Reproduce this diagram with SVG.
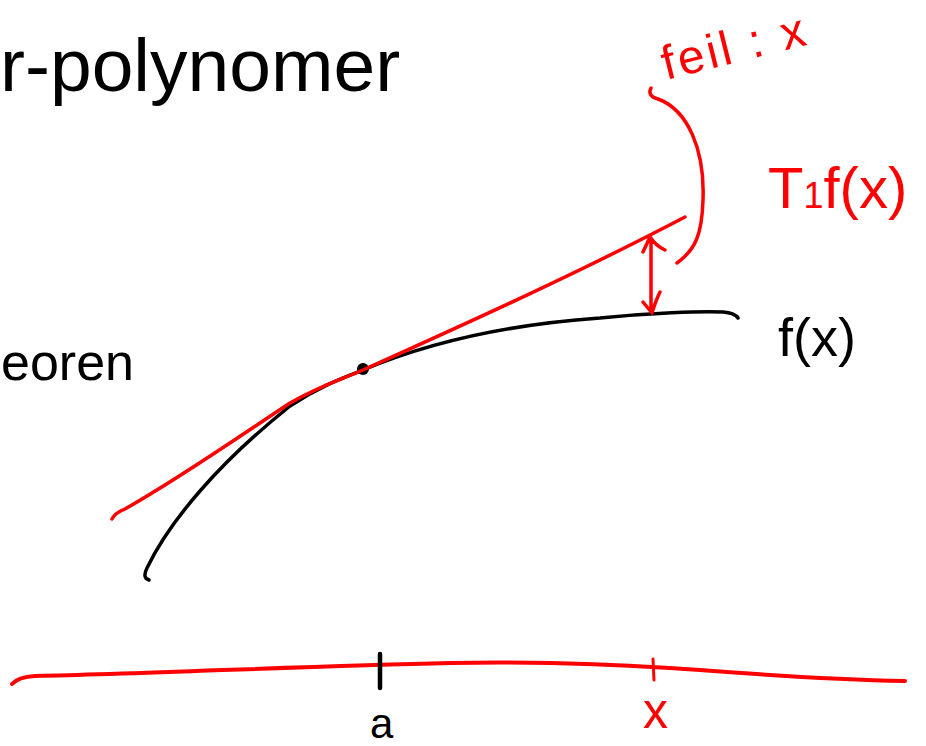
<svg xmlns="http://www.w3.org/2000/svg" width="926" height="746" viewBox="0 0 926 746">
<style>
.blk{fill:none;stroke:#000;stroke-linecap:round;stroke-linejoin:round}
.red{fill:none;stroke:#ff0000;stroke-linecap:round;stroke-linejoin:round}
.hw{font-family:"Liberation Sans",Arial,sans-serif}
.hr{fill:#ff0000}
.hb{fill:#000}
</style>
<rect width="926" height="746" fill="#fff"/>
<text x="0" y="91" font-family="Liberation Sans, Arial, sans-serif" font-size="75" fill="#000">r-polynomer</text>
<text class="hw hb" x="1" y="380" font-size="52">eoren</text>
<!-- f(x) curve -->
<path class="blk" stroke-width="3.5" d="M149,580 Q142,578 147,568 C170,520 220,462 290,406 C320,386 345,377 363,370 C420,346 500,325 600,318 C650,313 700,311 723,312 Q735,313 738,318"/>
<circle cx="363" cy="369" r="6" fill="#000"/>
<!-- tangent T1f -->
<path class="red" stroke-width="3.5" d="M112,519 Q115,513 125,509 C180,478 240,436 290,403 C320,386 340,380 363,370 C470,322 580,272 685,217"/>
<!-- error arrow -->
<path class="red" stroke-width="3.5" d="M651,238 L651,312 M643,252 L650,237 Q656,246 665,250 M643,302 L652,313 Q656,300 660,292"/>
<!-- brace -->
<path class="red" stroke-width="3.5" d="M651,88 Q647,96 658,99 C688,110 705,150 703,200 C702,235 695,250 677,263"/>
<!-- axis -->
<path class="red" stroke-width="4" d="M12,684 Q18,677 35,676 C150,674 300,666 450,663 C560,661 640,666 700,670 C790,677 850,680 905,681"/>
<path class="blk" stroke-width="4.5" d="M380,654 L380,688"/>
<path class="red" stroke-width="3" d="M653,659 L654,680"/>
<text class="hw hb" x="370" y="738" font-size="42">a</text>
<text class="hw hr" x="643" y="728" font-size="50">x</text>
<!-- labels -->
<text class="hw hr" x="666" y="80" font-size="48" letter-spacing="3" transform="rotate(-14 666 80)">feil : x</text>
<text class="hw hr" x="768" y="208" font-size="58">T<tspan font-size="36">1</tspan>f(x)</text>
<text class="hw hb" x="778" y="356" font-size="54">f(x)</text>
</svg>
